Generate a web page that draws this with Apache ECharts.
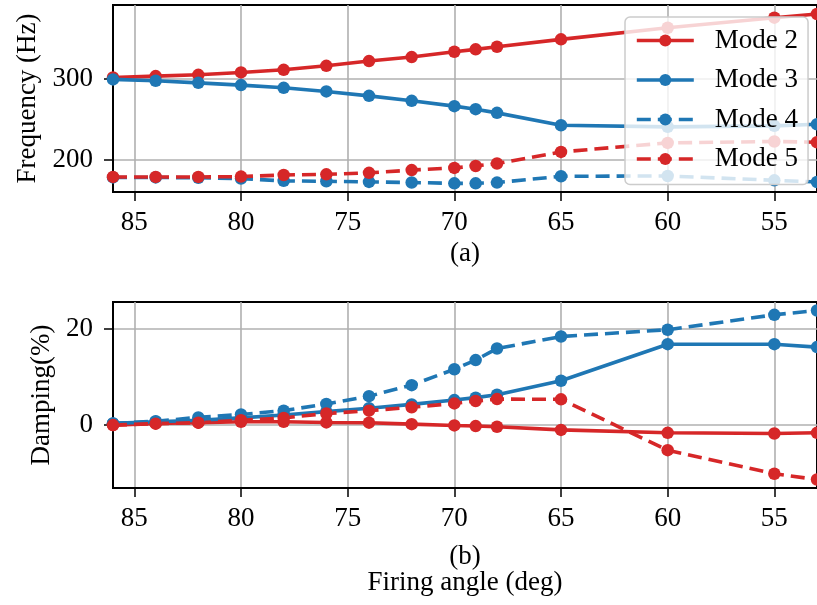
<!DOCTYPE html>
<html>
<head>
<meta charset="utf-8">
<script src="https://cdn.jsdelivr.net/npm/echarts@6/dist/echarts.min.js"></script>
<style>
html,body{margin:0;padding:0;background:#fff;}
#c{width:817px;height:605px;}
</style>
</head>
<body>
<div id="c"></div>
<script>
// Firing angle (deg)
const angles = [86, 84, 82, 80, 78, 76, 74, 72, 70, 69, 68, 65, 60, 55, 53];
const xTicks = [55, 60, 65, 70, 75, 80, 85];
const freqTicks = [200, 300];
const dampTicks = [0, 20];
// Frequency (Hz)
const mode2Freq = [301.2, 302.8, 304.4, 307.3, 310.5, 315.4, 321.2, 326.1, 332.6, 335.5, 338.7, 347.7, 361.9, 374.2, 378.7];
const mode3Freq = [298.8, 297.1, 294.6, 291.8, 288.5, 284.1, 278.7, 272.6, 266.1, 262.4, 257.9, 242.8, 240.8, 242.0, 244.0];
const mode4Freq = [179.0, 179.0, 178.6, 177.6, 174.8, 174.3, 173.5, 172.8, 171.8, 171.8, 172.7, 180.4, 180.8, 175.5, 173.4];
const mode5Freq = [179.6, 179.6, 179.6, 180.0, 182.0, 182.8, 184.6, 188.0, 190.6, 193.0, 196.0, 210.2, 221.2, 222.9, 222.0];
// Damping (%)
const mode2Damp = [0, 0.35, 0.5, 0.7, 0.7, 0.55, 0.5, 0.2, -0.07, -0.2, -0.35, -1.0, -1.6, -1.75, -1.6];
const mode3Damp = [0.35, 0.7, 1.0, 1.5, 2.1, 2.8, 3.5, 4.3, 5.2, 5.7, 6.3, 9.2, 16.8, 16.8, 16.2];
const mode4Damp = [0.35, 0.8, 1.6, 2.2, 3.0, 4.4, 6.0, 8.3, 11.6, 13.5, 15.9, 18.4, 19.8, 22.9, 23.8];
const mode5Damp = [0, 0.3, 0.5, 1.0, 1.5, 2.4, 3.0, 3.7, 4.5, 5.0, 5.4, 5.35, -5.2, -10.1, -11.3];

const RED = '#d62728', BLUE = '#1f77b4';
const FONT = "'Liberation Serif', 'DejaVu Serif', serif";
const FS = 27;
const pair = (ys) => angles.map((a, i) => [a, ys[i]]);

function mkX(idx, name, gap) {
  return {
    type: 'value', gridIndex: idx, inverse: true, min: 53, max: 86,
    name: name, nameLocation: 'middle', nameGap: gap,
    nameTextStyle: {fontFamily: FONT, fontSize: FS, color: '#000', lineHeight: 26},
    axisLine: {show: true, onZero: false, lineStyle: {color: '#000', width: 2}},
    axisTick: {show: true, length: 9, customValues: xTicks, lineStyle: {color: '#000', width: 1.5}},
    axisLabel: {customValues: xTicks, fontFamily: FONT, fontSize: FS, color: '#000', margin: 17},
    splitLine: {show: true, lineStyle: {color: '#b0b0b0', width: 1.6}}
  };
}
function mkY(idx, name, gap, min, max, ticks) {
  return {
    type: 'value', gridIndex: idx, min: min, max: max,
    name: name, nameLocation: 'middle', nameGap: gap,
    nameTextStyle: {fontFamily: FONT, fontSize: FS, color: '#000'},
    axisLine: {show: true, onZero: false, lineStyle: {color: '#000', width: 2}},
    axisTick: {show: true, length: 9, customValues: ticks, lineStyle: {color: '#000', width: 1.5}},
    axisLabel: {customValues: ticks, fontFamily: FONT, fontSize: FS, color: '#000', margin: 20},
    splitLine: {show: true, lineStyle: {color: '#b0b0b0', width: 1.6}}
  };
}
function mkS(name, data, color, dashed, idx) {
  return {
    type: 'line', name: name, xAxisIndex: idx, yAxisIndex: idx,
    data: data, symbol: 'circle', symbolSize: 12.5, showSymbol: true,
    clip: false, animation: false,
    itemStyle: {color: color},
    lineStyle: {color: color, width: 3.6, type: dashed ? [14, 7] : 'solid'}
  };
}

const chart = echarts.init(document.getElementById('c'), null, {renderer: 'canvas'});
chart.setOption({
  animation: false,
  backgroundColor: '#fff',
  grid: [
    {left: 113, right: 0, top: 5, height: 187, show: true, borderColor: '#000', borderWidth: 2, containLabel: false},
    {left: 113, right: 0, top: 302, height: 186, show: true, borderColor: '#000', borderWidth: 2, containLabel: false}
  ],
  xAxis: [mkX(0, '(a)', 49), mkX(1, '(b)\nFiring angle (deg)', 56)],
  yAxis: [mkY(0, 'Frequency (Hz)', 71, 161.2, 389.7, freqTicks),
          mkY(1, 'Damping(%)', 58, -13.06, 25.56, dampTicks)],
  legend: {
    data: ['Mode 2', 'Mode 3', 'Mode 4', 'Mode 5'],
    orient: 'vertical', left: 625, top: 17,
    padding: [10, 10, 12, 10],
    itemWidth: 57, itemHeight: 15, itemGap: 12.5,
    lineStyle: {width: 3.6},
    backgroundColor: 'rgba(255,255,255,0.8)',
    borderColor: '#cccccc', borderWidth: 1.5, borderRadius: 5,
    textStyle: {fontFamily: FONT, fontSize: FS, color: '#000', lineHeight: 26, padding: [0, 0, 0, 16]}
  },
  series: [
    mkS('Mode 2', pair(mode2Freq), RED, false, 0),
    mkS('Mode 3', pair(mode3Freq), BLUE, false, 0),
    mkS('Mode 4', pair(mode4Freq), BLUE, true, 0),
    mkS('Mode 5', pair(mode5Freq), RED, true, 0),
    mkS('Mode 2', pair(mode2Damp), RED, false, 1),
    mkS('Mode 3', pair(mode3Damp), BLUE, false, 1),
    mkS('Mode 4', pair(mode4Damp), BLUE, true, 1),
    mkS('Mode 5', pair(mode5Damp), RED, true, 1)
  ]
});
</script>
</body>
</html>
